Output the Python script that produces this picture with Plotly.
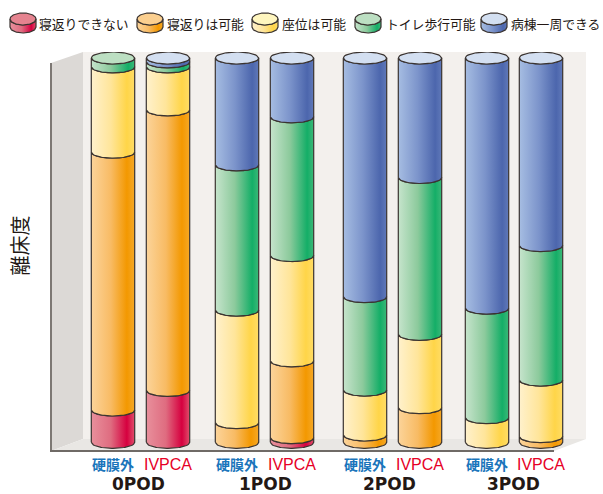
import math
import plotly.graph_objects as go

# ---------- data (percent of patients) ----------
groups = ["0POD", "1POD", "2POD", "3POD"]
tick_labels = ["硬膜外", "IVPCA"] * 4
series_names = ["寝返りできない", "寝返りは可能", "座位は可能", "トイレ歩行可能", "病棟一周できる"]
cannot_turn = [8.4, 13.5, 0, 1.2, 0, 0, 0, 0]
can_turn = [67.1, 73.0, 5.1, 20.0, 1.9, 9.0, 0, 1.5]
can_sit = [22.2, 11.2, 29.3, 27.4, 11.7, 19.1, 6.4, 14.7]
can_walk_toilet = [2.3, 1.3, 37.8, 36.1, 24.3, 40.8, 28.5, 35.0]
can_walk_ward = [0, 1.0, 27.8, 15.3, 62.1, 31.1, 65.1, 48.8]
series_values = [cannot_turn, can_turn, can_sit, can_walk_toilet, can_walk_ward]

# ---------- layout constants ----------
W, H = 603, 494
centers = [113, 168, 237, 292, 365, 420, 487, 541]
group_centers = [138, 265, 389, 513]
half_w = 21.7
plot_l, plot_r, plot_t, plot_b = 51, 586, 52, 451
y0_px, px_per_unit = 442.3, 3.843
ry_px = 6.0
OUTLINE = "#3a3330"

ramps = [
    [[0, "#e8909c"], [0.45, "#df6c80"], [0.82, "#d6003f"], [1, "#e0506c"]],
    [[0, "#fcd49a"], [0.45, "#f8bb64"], [0.82, "#f39800"], [1, "#f5a827"]],
    [[0, "#fff1cc"], [0.45, "#ffe59a"], [0.82, "#ffd548"], [1, "#ffdc66"]],
    [[0, "#c6e4cc"], [0.45, "#8cca9c"], [0.85, "#14ae67"], [1, "#3cb878"]],
    [[0, "#a6bde2"], [0.45, "#7c94cb"], [0.85, "#4c66ad"], [1, "#6079b9"]],
]
caps = ["#e5838f", "#fbcf8f", "#fff6bf", "#bcdfc2", "#d3dff1"]


def arc(cx, level, ry, sign, n=40, reverse=False):
    ts = [-1 + 2 * i / n for i in range(n + 1)]
    if reverse:
        ts = ts[::-1]
    xs = [cx + cur_half * t for t in ts]
    ys = [level + sign * ry * math.sqrt(max(0, 1 - t * t)) for t in ts]
    return xs, ys


def body(fig, cx, lo, hi, ry, sign, ramp, xa, ya, lw=1.2):
    x1, y1 = arc(cx, lo, ry, sign)
    x2, y2 = arc(cx, hi, ry, sign, reverse=True)
    fig.add_trace(go.Scatter(
        x=x1 + x2 + x1[:1], y=y1 + y2 + y1[:1], mode="lines", fill="toself",
        fillgradient=dict(type="horizontal", colorscale=ramp),
        line=dict(color=OUTLINE, width=lw), hoverinfo="skip", showlegend=False,
        xaxis=xa, yaxis=ya,
    ))


def cap(fig, cx, level, ry, sign, color, xa, ya, lw=1.2):
    x1, y1 = arc(cx, level, ry, sign)
    x2, y2 = arc(cx, level, ry, -sign, reverse=True)
    fig.add_trace(go.Scatter(
        x=x1 + x2, y=y1 + y2, mode="lines", fill="toself", fillcolor=color,
        line=dict(color=OUTLINE, width=lw), hoverinfo="skip", showlegend=False,
        xaxis=xa, yaxis=ya,
    ))


fig = go.Figure()

# stacked cylinders
cur_half = half_w
ry = ry_px / px_per_unit
for i, cx in enumerate(centers):
    base = 0.0
    top_idx = 0
    for s, vals in enumerate(series_values):
        v = vals[i]
        if v <= 0:
            continue
        body(fig, cx, base, base + v, ry, -1, ramps[s], "x", "y")
        base += v
        top_idx = s
    cap(fig, cx, base, ry, -1, caps[top_idx], "x", "y")

# legend swatches and labels (x2/y2 are in figure pixels)
cur_half = 13
legend_x = [23, 150, 265, 368, 494]
legend_text_x = [39, 167, 282, 386, 511]
annotations = []
for s, name in enumerate(series_names):
    body(fig, legend_x[s], 19, 27, 6, 1, ramps[s], "x2", "y2")
    cap(fig, legend_x[s], 19, 6, 1, caps[s], "x2", "y2")
    annotations.append(dict(
        x=legend_text_x[s], y=23.5, xref="x2", yref="y2", text=name, showarrow=False,
        xanchor="left", yanchor="middle", xshift=-2,
        font=dict(family="Noto Sans CJK JP", size=12.8, color="#231815"),
    ))

# group labels
for g, gx in zip(groups, group_centers):
    annotations.append(dict(
        x=gx, y=483.5, xref="x2", yref="y2", text=g, showarrow=False,
        xanchor="center", yanchor="middle",
        font=dict(family="DejaVu Sans", size=17, weight=700, color="#231815"),
    ))

# y-axis label
annotations.append(dict(
    x=19, y=245.5, xref="x2", yref="y2", text="離床度", showarrow=False, textangle=-90,
    xanchor="center", yanchor="middle",
    font=dict(family="Noto Sans CJK JP", size=20, color="#231815"),
))


def poly(points, color):
    path = "M " + " L ".join(f"{x / W:.5f},{1 - y / H:.5f}" for x, y in points) + " Z"
    return dict(type="path", path=path, xref="paper", yref="paper", fillcolor=color,
                line=dict(width=0), layer="below")


shapes = [
    poly([(83, 52), (586, 52), (586, 439), (83, 439)], "#f3f0ed"),
    poly([(51, 63), (83, 52), (83, 439), (51, 451)], "#dcd9d6"),
    poly([(83, 439), (586, 439), (554, 451), (51, 451)], "#e9e7e4"),
    dict(type="line", xref="paper", yref="paper", x0=51 / W, x1=51 / W, y0=1 - 63 / H, y1=1 - 451 / H,
         line=dict(color="#7d7874", width=2), layer="below"),
    dict(type="line", xref="paper", yref="paper", x0=50 / W, x1=554 / W, y0=1 - 451 / H, y1=1 - 451 / H,
         line=dict(color="#6f6a66", width=2), layer="below"),
]

tick_styles = ["color:#1a75bb;font-size:14px;font-weight:700", "color:#e60026;font-size:16px"]
ticktext = [f'<span style="{tick_styles[i % 2]}">{t}</span>' for i, t in enumerate(tick_labels)]

fig.update_layout(
    width=W, height=H, margin=dict(l=0, r=0, t=0, b=0),
    paper_bgcolor="white", plot_bgcolor="rgba(0,0,0,0)", showlegend=False,
    xaxis=dict(domain=[plot_l / W, plot_r / W], range=[plot_l, plot_r], anchor="y",
               tickmode="array", tickvals=centers, ticktext=ticktext, ticks="",
               showgrid=False, zeroline=False, showline=False, automargin=False,
               ticklabelstandoff=3, tickangle=0,
               tickfont=dict(family="Liberation Sans, Noto Sans CJK JP", size=15)),
    yaxis=dict(domain=[1 - plot_b / H, 1 - plot_t / H], anchor="x",
               range=[(y0_px - plot_b) / px_per_unit, (y0_px - plot_t) / px_per_unit],
               showticklabels=False, ticks="", showgrid=False, zeroline=False,
               showline=False, automargin=False),
    xaxis2=dict(domain=[0, 1], range=[0, W], anchor="y2", visible=False),
    yaxis2=dict(domain=[0, 1], range=[H, 0], anchor="x2", visible=False),
    shapes=shapes, annotations=annotations,
)
fig.write_html("out.html", config={"displayModeBar": False},
               post_script="document.body.style.margin='0';")
